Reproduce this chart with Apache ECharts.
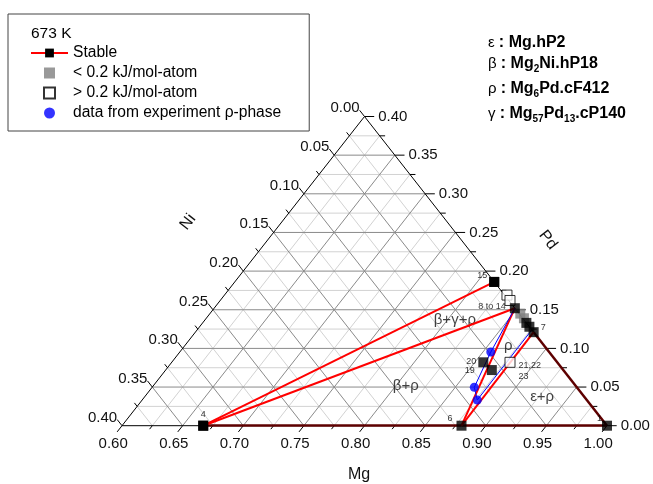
<!DOCTYPE html>
<html>
<head>
<meta charset="utf-8">
<script src="https://cdn.jsdelivr.net/npm/echarts@6/dist/echarts.min.js"></script>
<style>
html, body { margin: 0; padding: 0; background: #fff; }
#main { width: 653px; height: 484px; }
</style>
</head>
<body>
<div id="main"></div>
<script>
// 刻度（主刻度带标签，次刻度不带）
const mgTicks = [0.60, 0.65, 0.70, 0.75, 0.80, 0.85, 0.90, 0.95, 1.00];
const mgMinor = [0.625, 0.675, 0.725, 0.775, 0.825, 0.875, 0.925, 0.975];
const niTicks = [0.00, 0.05, 0.10, 0.15, 0.20, 0.25, 0.30, 0.35, 0.40];
const niMinor = [0.025, 0.075, 0.125, 0.175, 0.225, 0.275, 0.325, 0.375];
const pdTicks = [0.00, 0.05, 0.10, 0.15, 0.20, 0.25, 0.30, 0.35, 0.40];
const pdMinor = [0.025, 0.075, 0.125, 0.175, 0.225, 0.275, 0.325, 0.375];

// 稳定相（黑色方块），成分 Mg / Pd，Ni = 1 - Mg - Pd
const stableNames = ['1', '4', '6', '15', '8 to 14', '', '', '7', '20', '19'];
const stableMg = [1.000, 0.667, 0.880, 0.814, 0.848, 0.867, 0.872, 0.879, 0.857, 0.869];
const stablePd = [0.000, 0.000, 0.000, 0.186, 0.152, 0.133, 0.128, 0.121, 0.082, 0.072];

// < 0.2 kJ/mol-atom（灰色方块）
const grayMg = [0.856, 0.862];
const grayPd = [0.145, 0.139];

// > 0.2 kJ/mol-atom（空心方块）
const whiteNames = ['', '', '21,22\n23'];
const whiteMg = [0.833, 0.839, 0.879];
const whitePd = [0.169, 0.162, 0.082];

// 实验数据 ρ 相（蓝点）
const blueMg = [0.8565, 0.8657, 0.8764];
const bluePd = [0.0953, 0.0497, 0.0333];

// ρ 相实验边界（蓝线）
const rhoEdgeMg = [0.848, 0.8565, 0.8657, 0.8764, 0.876];
const rhoEdgePd = [0.152, 0.0953, 0.0497, 0.0333, 0.124];

// 连结线（红线）与边上的凸包线
const tieFrom = ['4', '4', '6', '6'];
const tieTo = ['15', '8 to 14', '8 to 14', '7'];
const hullFrom = ['4', '6', '7'];
const hullTo = ['6', '1', '1'];

// 相区标注
const regionNames = ['β+γ+ρ', 'β+ρ', 'ρ', 'ε+ρ'];
const regionMg = [0.806, 0.8085, 0.867, 0.928];
const regionPd = [0.137, 0.051, 0.103, 0.037];

const FONT = 'Liberation Sans, Arial, sans-serif';
const SQUARE = 'path://M0,0L10,0L10,10L0,10Z'; //图例用正方形

// 三元坐标 -> 直角坐标（x 轴以 Mg 为单位）
function tern(mg, pd) {
    return [mg + pd / 2, pd];
}
function seg(mgA, pdA, mgB, pdB) {
    const a = tern(mgA, pdA), b = tern(mgB, pdB);
    return [a[0], a[1], b[0], b[1]];
}
function isMajor(v) {
    return Math.abs(v * 20 - Math.round(v * 20)) < 1e-6;
}
function stableIdx(name) {
    return stableNames.indexOf(name);
}

// 网格线
const majorGrid = [], minorGrid = [];
pdTicks.concat(pdMinor).forEach(function (p) {
    if (p <= 0 || p >= 0.4) return;
    (isMajor(p) ? majorGrid : minorGrid).push(seg(0.6, p, 1 - p, p));
});
mgTicks.concat(mgMinor).forEach(function (m) {
    if (m <= 0.6 || m >= 1) return;
    (isMajor(m) ? majorGrid : minorGrid).push(seg(m, 0, m, 1 - m));
});
niTicks.concat(niMinor).forEach(function (n) {
    if (n <= 0 || n >= 0.4) return;
    (isMajor(n) ? majorGrid : minorGrid).push(seg(0.6, 0.4 - n, 1 - n, 0));
});
const frame = [seg(0.6, 0, 1, 0), seg(1, 0, 0.6, 0.4), seg(0.6, 0.4, 0.6, 0)];

// 刻度：[起点x, 起点y, 终点x, 终点y]，外加标签
const tickRows = [], tickInfo = [];
const D = 0.008, d = 0.0045;
mgTicks.concat(mgMinor).forEach(function (m) {
    const major = isMajor(m), t = major ? D : d;
    const b = tern(m, 0);
    tickRows.push([b[0], b[1], m - t / 2, -t]);
    tickInfo.push({ text: major ? m.toFixed(2) : '', side: 'mg' });
});
niTicks.concat(niMinor).forEach(function (n) {
    const major = isMajor(n), t = major ? D : d;
    const b = tern(0.6, 0.4 - n);
    const e = tern(0.6 - t, 0.4 - n + t);
    tickRows.push([b[0], b[1], e[0], e[1]]);
    tickInfo.push({ text: major ? n.toFixed(2) : '', side: 'ni' });
});
pdTicks.concat(pdMinor).forEach(function (p) {
    const major = isMajor(p), t = major ? D : d;
    const b = tern(1 - p, p);
    tickRows.push([b[0], b[1], b[0] + t, b[1]]);
    tickInfo.push({ text: major ? p.toFixed(2) : '', side: 'pd' });
});

function segSeries(rows, stroke, width, z) {
    return {
        type: 'custom',
        coordinateSystem: 'cartesian2d',
        silent: true,
        z: z,
        data: rows,
        encode: { x: [0, 2], y: [1, 3] },
        renderItem: function (params, api) {
            const a = api.coord([api.value(0), api.value(1)]);
            const b = api.coord([api.value(2), api.value(3)]);
            return {
                type: 'line',
                shape: { x1: a[0], y1: a[1], x2: b[0], y2: b[1] },
                style: { stroke: stroke, lineWidth: width }
            };
        }
    };
}

// 点标签位置
const labelPos = {
    '1': { position: 'left', offset: [2, -7] },
    '4': { position: 'top', offset: [0, 0] },
    '6': { position: 'left', offset: [-2, -7] },
    '15': { position: 'left', offset: [0, -6] },
    '8 to 14': { position: 'left', offset: [-2, -2] },
    '7': { position: 'right', offset: [0, -5] },
    '20': { position: 'left', offset: [0, -1] },
    '19': { position: 'left', offset: [-10, 0] }
};

const stableData = stableNames.map(function (name, i) {
    const lp = labelPos[name] || { position: 'left', offset: [0, 0] };
    return {
        value: tern(stableMg[i], stablePd[i]),
        label: { show: name !== '', formatter: name, position: lp.position, offset: lp.offset, distance: 2 }
    };
});

function tieSeries(a, b) {
    const i = stableIdx(a), j = stableIdx(b);
    return {
        name: 'Stable',
        type: 'line',
        z: 4,
        silent: true,
        symbol: 'rect',
        symbolSize: 10,
        itemStyle: { color: '#000' },
        lineStyle: { color: '#ff0000', width: 2 },
        data: [tern(stableMg[i], stablePd[i]), tern(stableMg[j], stablePd[j])]
    };
}

const series = [];
series.push(tieSeries(tieFrom[0], tieTo[0]));
series.push(segSeries(minorGrid, '#d2d2d2', 1, 1));
series.push(segSeries(majorGrid, '#8a8a8a', 1, 1));
series.push(segSeries(frame, '#000', 1, 2));
series.push({
    type: 'custom',
    coordinateSystem: 'cartesian2d',
    silent: true,
    z: 2,
    data: tickRows,
    encode: { x: [0, 2], y: [1, 3] },
    renderItem: function (params, api) {
        const a = api.coord([api.value(0), api.value(1)]);
        const b = api.coord([api.value(2), api.value(3)]);
        const info = tickInfo[params.dataIndex];
        const children = [{
            type: 'line',
            shape: { x1: a[0], y1: a[1], x2: b[0], y2: b[1] },
            style: { stroke: '#000', lineWidth: 1 }
        }];
        if (info.text) {
            let x = b[0], y = b[1], align = 'center', va = 'middle';
            if (info.side === 'mg') { x -= 4; y += 4; va = 'top'; }
            if (info.side === 'ni') { y -= 2; align = 'right'; }
            if (info.side === 'pd') { x += 4; align = 'left'; }
            children.push({
                type: 'text',
                x: x,
                y: y,
                style: { text: info.text, fill: '#111', fontSize: 15, fontFamily: FONT, align: align, verticalAlign: va }
            });
        }
        return { type: 'group', children: children };
    }
});
for (let k = 1; k < tieFrom.length; k++) {
    const s = tieSeries(tieFrom[k], tieTo[k]);
    s.symbol = 'none';
    series.push(s);
}
series.push({
    name: 'hull',
    type: 'lines',
    coordinateSystem: 'cartesian2d',
    silent: true,
    z: 3,
    lineStyle: { color: '#5e0000', width: 2.5, opacity: 1 },
    data: hullFrom.map(function (a, k) {
        const i = stableIdx(a), j = stableIdx(hullTo[k]);
        return { coords: [tern(stableMg[i], stablePd[i]), tern(stableMg[j], stablePd[j])] };
    })
});
series.push({
    name: 'rhoEdge',
    type: 'line',
    z: 4,
    silent: true,
    symbol: 'none',
    lineStyle: { color: '#0000ff', width: 1 },
    data: rhoEdgeMg.map(function (m, i) { return tern(m, rhoEdgePd[i]); })
});
series.push({
    name: '> 0.2 kJ/mol-atom',
    type: 'scatter',
    z: 5,
    symbol: 'rect',
    symbolSize: 10,
    itemStyle: { color: '#fff', borderColor: '#000', borderWidth: 1 },
    label: { fontSize: 9, fontFamily: FONT, color: '#000', lineHeight: 11, align: 'left' },
    data: whiteMg.map(function (m, i) {
        return {
            value: tern(m, whitePd[i]),
            label: { show: whiteNames[i] !== '', formatter: whiteNames[i], position: 'right', offset: [0, 9], distance: 3 }
        };
    })
});
series.push({
    name: '< 0.2 kJ/mol-atom',
    type: 'scatter',
    z: 5,
    symbol: 'rect',
    symbolSize: 10,
    itemStyle: { color: '#808080' },
    data: grayMg.map(function (m, i) { return tern(m, grayPd[i]); })
});
series.push({
    name: 'Stable',
    type: 'scatter',
    z: 6,
    symbol: 'rect',
    symbolSize: 10,
    itemStyle: { color: '#000' },
    label: { fontSize: 9, fontFamily: FONT, color: '#000' },
    data: stableData
});
series.push({
    name: 'data from experiment ρ-phase',
    type: 'scatter',
    z: 7,
    symbol: 'circle',
    symbolSize: 9,
    itemStyle: { color: '#0000ff' },
    data: blueMg.map(function (m, i) { return tern(m, bluePd[i]); })
});
series.push({
    name: 'region',
    type: 'scatter',
    z: 3,
    silent: true,
    symbolSize: 0,
    label: { show: true, position: 'inside', fontSize: 15, fontFamily: FONT, color: '#111', formatter: function (p) { return regionNames[p.dataIndex]; } },
    data: regionMg.map(function (m, i) { return tern(m, regionPd[i]); })
});

function richRow(text) {
    return {
        text: text,
        rich: {
            g: { fontSize: 15, fontFamily: FONT, color: '#000', lineHeight: 20 },
            b: { fontSize: 16, fontWeight: 'bold', fontFamily: FONT, color: '#000', lineHeight: 20 },
            s: { fontSize: 10, fontWeight: 'bold', fontFamily: FONT, color: '#000', lineHeight: 8, verticalAlign: 'bottom' }
        }
    };
}

const my_echart = echarts.init(document.getElementById('main'), null, { renderer: 'canvas' });
let option = {
    animation: false,
    backgroundColor: '#fff',
    title: {
        text: '673 K',
        left: 26,
        top: 21,
        textStyle: { fontSize: 15.5, fontWeight: 'normal', fontFamily: FONT, color: '#000' }
    },
    legend: {
        orient: 'vertical',
        left: 8,
        top: 14,
        padding: [31, 28, 10, 22],
        borderColor: '#444',
        borderWidth: 1,
        itemWidth: 37,
        itemHeight: 11,
        itemGap: 4,
        symbolKeepAspect: true,
        selectedMode: false,
        textStyle: { fontSize: 15.6, fontFamily: FONT, color: '#000' },
        data: [
            { name: 'Stable' },
            { name: '< 0.2 kJ/mol-atom', icon: SQUARE },
            { name: '> 0.2 kJ/mol-atom', icon: SQUARE },
            { name: 'data from experiment ρ-phase' }
        ]
    },
    grid: { left: 122, right: 46, top: 116.5, bottom: 58.3 },
    xAxis: { type: 'value', min: 0.6, max: 1.0, show: false },
    yAxis: { type: 'value', min: 0, max: 0.4, show: false },
    graphic: [
        { type: 'text', left: 348, top: 467, style: { text: 'Mg', fontSize: 16, fontFamily: FONT, fill: '#111' } },
        { type: 'text', x: 188, y: 222, rotation: 52 * Math.PI / 180, style: { text: 'Ni', fontSize: 16, fontFamily: FONT, fill: '#111', align: 'center', verticalAlign: 'middle' } },
        { type: 'text', x: 548, y: 240, rotation: -52 * Math.PI / 180, style: { text: 'Pd', fontSize: 16, fontFamily: FONT, fill: '#111', align: 'center', verticalAlign: 'middle' } },
        { type: 'text', x: 488, y: 33, style: richRow('{g|ε }{b|: Mg.hP2}') },
        { type: 'text', x: 488, y: 54, style: richRow('{g|β }{b|: Mg}{s|2}{b|Ni.hP18}') },
        { type: 'text', x: 488, y: 79, style: richRow('{g|ρ }{b|: Mg}{s|6}{b|Pd.cF412}') },
        { type: 'text', x: 488, y: 104, style: richRow('{g|γ }{b|: Mg}{s|57}{b|Pd}{s|13}{b|.cP140}') }
    ],
    series: series
};

my_echart.setOption(option);
window.addEventListener('resize', function () {
    my_echart.resize();
});
</script>
</body>
</html>
